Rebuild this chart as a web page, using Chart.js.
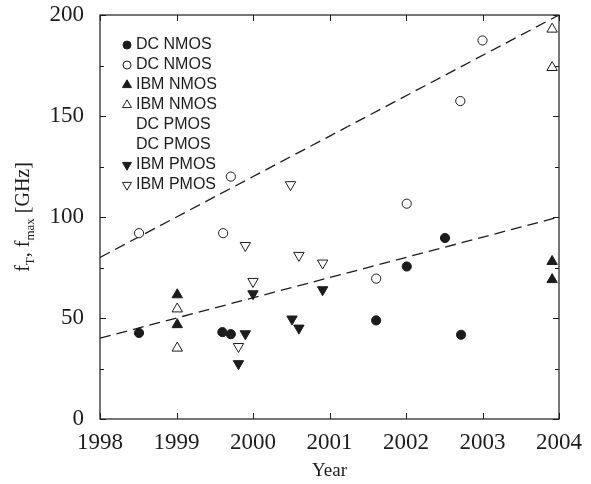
<!DOCTYPE html>
<html>
<head>
<meta charset="utf-8">
<script src="https://cdn.jsdelivr.net/npm/chart.js@4/dist/chart.umd.min.js"></script>
<style>
  html, body { margin: 0; padding: 0; background: #fff; }
  #wrap { width: 591px; height: 484px; }
</style>
</head>
<body>
<div id="wrap"><canvas id="c" width="591" height="484"></canvas></div>
<script>
// ---- data (x = year, y = GHz) ----
const DC_NMOS_FILLED = [[1998.51, 42.6], [1999.60, 43.0], [1999.71, 42.0], [2001.61, 48.8], [2002.01, 75.5], [2002.51, 89.6], [2002.72, 41.7]];
const DC_NMOS_OPEN = [[1998.51, 92.0], [1999.61, 92.0], [1999.71, 120.0], [2001.61, 69.5], [2002.01, 106.6], [2002.71, 157.4], [2003.00, 187.4]];
const IBM_NMOS_FILLED = [[1999.01, 61.5], [1999.01, 46.7], [2003.91, 78.0], [2003.91, 69.0]];
const IBM_NMOS_OPEN = [[1999.01, 54.5], [1999.01, 35.1], [2003.91, 193.0], [2003.91, 174.0]];
const IBM_PMOS_FILLED = [[1999.81, 27.4], [1999.90, 42.2], [2000.00, 62.0], [2000.51, 49.5], [2000.60, 45.0], [2000.91, 64.0]];
const IBM_PMOS_OPEN = [[1999.81, 35.9], [1999.90, 85.9], [2000.00, 68.1], [2000.49, 116.0], [2000.60, 81.0], [2000.91, 77.2]];
// dashed trend lines (end points)
const TREND_UPPER = [[1998, 80], [2004, 200]];
const TREND_LOWER = [[1998, 40], [2004, 100]];

const X_MIN = 1998, X_MAX = 2004;
const Y_MIN = 0, Y_MAX = 200;
const LEGEND_LABELS = ["DC NMOS", "DC NMOS", "IBM NMOS", "IBM NMOS", "DC PMOS", "DC PMOS", "IBM PMOS", "IBM PMOS"];

const INK = "#1c1c1c";
const SERIF = "'Liberation Serif', 'Times New Roman', serif";
const SANS = "'Liberation Sans', Arial, sans-serif";

const pts = arr => arr.map(p => ({ x: p[0], y: p[1] }));

function markerSet(label, data, style, filled, rotation, radius) {
  return {
    type: "scatter", label, data: pts(data), isMarker: true,
    pointStyle: style, pointRotation: rotation, pointRadius: radius, pointHoverRadius: radius,
    pointBackgroundColor: filled ? INK : "#fff", pointBorderColor: INK, pointBorderWidth: 1,
  };
}
function trendSet(data) {
  return {
    type: "line", label: "", data: pts(data), isMarker: false,
    borderColor: INK, borderWidth: 1.3, borderDash: [11, 6], pointRadius: 0, fill: false, tension: 0,
  };
}

const datasets = [
  markerSet(LEGEND_LABELS[0], DC_NMOS_FILLED, "circle", true, 0, 4.6),
  markerSet(LEGEND_LABELS[1], DC_NMOS_OPEN, "circle", false, 0, 4.6),
  markerSet(LEGEND_LABELS[2], IBM_NMOS_FILLED, "triangle", true, 0, 6),
  markerSet(LEGEND_LABELS[3], IBM_NMOS_OPEN, "triangle", false, 0, 6),
  markerSet(LEGEND_LABELS[4], [], false, true, 0, 0),
  markerSet(LEGEND_LABELS[5], [], false, false, 0, 0),
  markerSet(LEGEND_LABELS[6], IBM_PMOS_FILLED, "triangle", true, 180, 6),
  markerSet(LEGEND_LABELS[7], IBM_PMOS_OPEN, "triangle", false, 180, 6),
  trendSet(TREND_UPPER),
  trendSet(TREND_LOWER),
];

function drawMark(ctx, x, y, ds, r) {
  if (!ds.pointStyle) return;
  ctx.save();
  ctx.beginPath();
  if (ds.pointStyle === "circle") {
    ctx.arc(x, y, r, 0, Math.PI * 2);
  } else {
    const s = ds.pointRotation === 180 ? -1 : 1;
    ctx.moveTo(x, y - s * r);
    ctx.lineTo(x + r * 0.866, y + s * r * 0.5);
    ctx.lineTo(x - r * 0.866, y + s * r * 0.5);
    ctx.closePath();
  }
  ctx.fillStyle = ds.pointBackgroundColor;
  ctx.fill();
  ctx.strokeStyle = INK;
  ctx.lineWidth = 1;
  ctx.stroke();
  ctx.restore();
}

// frame, inward ticks on all four sides, legend and axis titles
const decor = {
  id: "decor",
  afterDraw(chart) {
    const { ctx, chartArea: a, scales } = chart;
    const xs = scales.x, ys = scales.y;
    ctx.save();
    ctx.strokeStyle = INK;
    ctx.lineWidth = 1.2;
    ctx.strokeRect(a.left, a.top, a.right - a.left, a.bottom - a.top);
    ctx.lineWidth = 1;
    ctx.beginPath();
    xs.ticks.forEach(t => {
      const px = Math.round(xs.getPixelForValue(t.value)) + 0.5;
      ctx.moveTo(px, a.bottom); ctx.lineTo(px, a.bottom - 6);
      ctx.moveTo(px, a.top); ctx.lineTo(px, a.top + 6);
    });
    ys.ticks.forEach(t => {
      const py = Math.round(ys.getPixelForValue(t.value)) + 0.5;
      const len = t.value % 50 === 0 ? 6 : 4;
      ctx.moveTo(a.left, py); ctx.lineTo(a.left + len, py);
      ctx.moveTo(a.right, py); ctx.lineTo(a.right - len, py);
    });
    ctx.stroke();

    // legend
    ctx.font = "16px " + SANS;
    ctx.fillStyle = INK;
    ctx.textBaseline = "middle";
    let ly = a.top + 30;
    chart.data.datasets.filter(d => d.isMarker).forEach(d => {
      drawMark(ctx, a.left + 27, ly, d, d.pointStyle === "circle" ? 4 : 5.2);
      ctx.fillStyle = INK;
      ctx.fillText(d.label, a.left + 36, ly);
      ly += 20;
    });

    // x title
    ctx.font = "19px " + SERIF;
    ctx.textAlign = "center";
    ctx.fillText("Year", (a.left + a.right) / 2, 471);

    // y title with subscripts
    const parts = [
      ["f", 20, 0], ["T", 13, 5], [", ", 20, 0], ["f", 20, 0], ["max", 13, 5], [" [GHz]", 20, 0],
    ];
    let total = 0;
    parts.forEach(p => { ctx.font = p[1] + "px " + SERIF; total += ctx.measureText(p[0]).width; });
    ctx.translate(29, (a.top + a.bottom) / 2);
    ctx.rotate(-Math.PI / 2);
    ctx.textAlign = "left";
    ctx.textBaseline = "alphabetic";
    let cx = -total / 2;
    parts.forEach(p => {
      ctx.font = p[1] + "px " + SERIF;
      ctx.fillText(p[0], cx, p[2]);
      cx += ctx.measureText(p[0]).width;
    });
    ctx.restore();
  },
};

new Chart(document.getElementById("c"), {
  type: "scatter",
  data: { datasets },
  options: {
    responsive: false,
    animation: false,
    layout: { padding: { left: 0, right: 32, top: 15, bottom: 0 } },
    plugins: { legend: { display: false }, tooltip: { enabled: false } },
    scales: {
      x: {
        type: "linear", min: X_MIN, max: X_MAX,
        grid: { display: false, drawTicks: false }, border: { display: false },
        ticks: { stepSize: 1, autoSkip: false, maxRotation: 0, padding: 10, color: INK,
                 font: { family: SERIF, size: 23 }, callback: v => String(v) },
        afterFit: s => { s.height = 65; s.paddingLeft = 0; s.paddingRight = 0; },
      },
      y: {
        min: Y_MIN, max: Y_MAX,
        grid: { display: false, drawTicks: false }, border: { display: false },
        ticks: { stepSize: 25, autoSkip: false, padding: 16, color: INK,
                 font: { family: SERIF, size: 23 }, callback: v => (v % 50 === 0 ? String(v) : "") },
        afterFit: s => { s.width = 100; s.paddingTop = 0; s.paddingBottom = 0; },
      },
    },
  },
  plugins: [decor],
});
</script>
</body>
</html>
